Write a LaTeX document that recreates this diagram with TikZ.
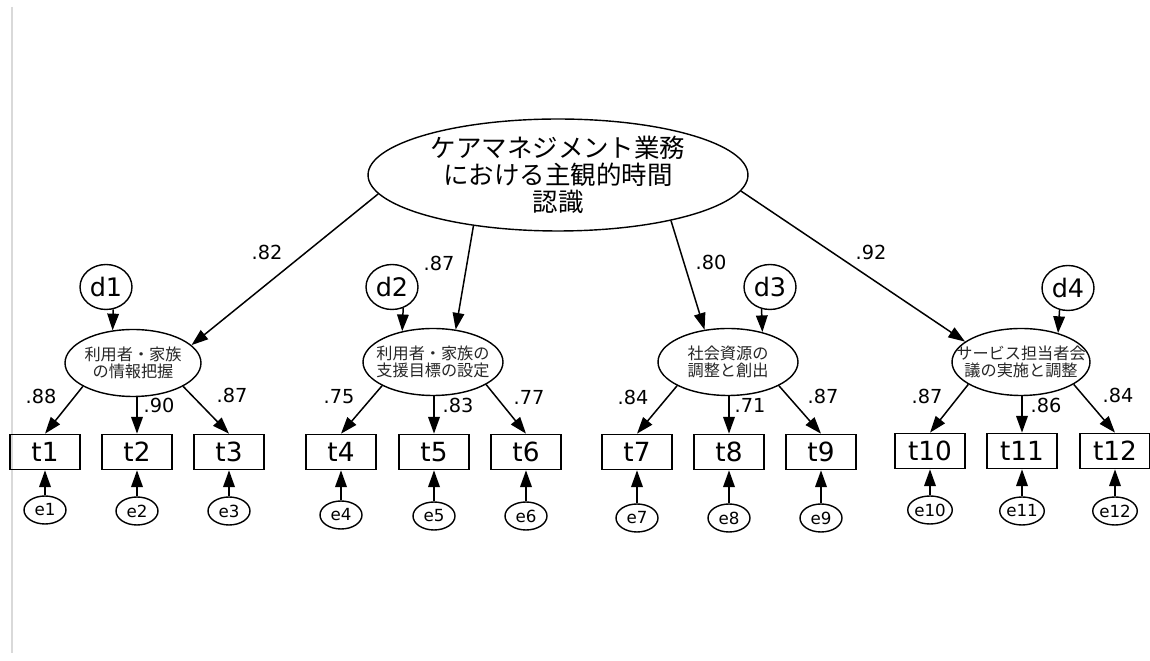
\documentclass[tikz,border=0pt]{standalone}
\usepackage{fontspec}
\setmainfont{DejaVu Sans}
\newfontfamily\jpfont{Noto Sans CJK JP}
\usetikzlibrary{arrows.meta,calc,shapes.geometric}
\begin{document}
\begin{tikzpicture}[x=0.02cm,y=-0.02cm]
\tikzset{
  latent/.style={ellipse, draw, line width=0.8pt, inner sep=0pt},
  obsbox/.style={rectangle, draw, line width=0.95pt, minimum width=1.4cm, minimum height=0.7cm, inner sep=0pt, font=\fontsize{15}{15}\selectfont},
  distc/.style={ellipse, draw, line width=0.8pt, minimum width=1.04cm, minimum height=0.9cm, inner sep=0pt, font=\fontsize{14.5}{14.5}\selectfont},
  errc/.style={ellipse, draw, line width=0.8pt, minimum width=0.84cm, minimum height=0.56cm, inner sep=0pt, font=\fontsize{9.5}{9.5}\selectfont},
  arr/.style={-{Triangle[length=9.5pt,width=6.6pt]}, line width=0.85pt},
  wt/.style={inner sep=0pt, font=\fontsize{11}{11}\selectfont},
  jpbig/.style={align=center, inner sep=0pt, font=\jpfont\fontsize{14.5}{15.4}\selectfont},
  jpsmall/.style={align=center, inner sep=0pt, text=black!85, font=\jpfont\fontsize{9.2}{9.8}\selectfont},
}
\useasboundingbox (0,0) rectangle (1150,661);
\fill[white] (0,0) rectangle (1150,661);
% faint left rule
\coordinate (g1) at (12,7);
\coordinate (g2) at (12,653);
\draw[black!15, line width=0.6pt] (g1) -- (g2);

% main latent
\node[latent, minimum width=7.6cm, minimum height=2.24cm,
  label={[jpbig]center:ケアマネジメント業務\\における主観的時間\\認識}] (M) at (558,175) {};

% first-order latents
\node[latent, minimum width=2.72cm, minimum height=1.34cm,
  label={[jpsmall]center:利用者・家族\\の情報把握}] (L1) at (133,363) {};
\node[latent, minimum width=2.8cm, minimum height=1.34cm,
  label={[jpsmall]center:利用者・家族の\\支援目標の設定}] (L2) at (433,362) {};
\node[latent, minimum width=2.8cm, minimum height=1.34cm,
  label={[jpsmall]center:社会資源の\\調整と創出}] (L3) at (728,362) {};
\node[latent, minimum width=2.76cm, minimum height=1.34cm,
  label={[jpsmall]center:サービス担当者会\\議の実施と調整}] (L4) at (1021,362) {};

% disturbances
\node[distc] (d1) at (106,287) {d1};
\node[distc] (d2) at (392,287) {d2};
\node[distc] (d3) at (770,287) {d3};
\node[distc] (d4) at (1068,288) {d4};

% observed
\node[obsbox] (t1) at (45,452) {t1};
\node[obsbox] (t2) at (137,452) {t2};
\node[obsbox] (t3) at (229,452) {t3};
\node[obsbox] (t4) at (341,452) {t4};
\node[obsbox] (t5) at (434,452) {t5};
\node[obsbox] (t6) at (526,452) {t6};
\node[obsbox] (t7) at (637,452) {t7};
\node[obsbox] (t8) at (729,452) {t8};
\node[obsbox] (t9) at (821,452) {t9};
\node[obsbox] (t10) at (930,451) {t10};
\node[obsbox] (t11) at (1022,451) {t11};
\node[obsbox] (t12) at (1115,451) {t12};

% errors
\node[errc] (e1) at (45,510) {e1};
\node[errc] (e2) at (137,511) {e2};
\node[errc] (e3) at (229,511) {e3};
\node[errc] (e4) at (341,515) {e4};
\node[errc] (e5) at (434,516) {e5};
\node[errc] (e6) at (526,516) {e6};
\node[errc] (e7) at (637,518) {e7};
\node[errc] (e8) at (729,518) {e8};
\node[errc] (e9) at (821,518) {e9};
\node[errc] (e10) at (930,510) {e10};
\node[errc] (e11) at (1022,511) {e11};
\node[errc] (e12) at (1115,511) {e12};

% second-order paths
\draw[arr] (M.186.7) -- (L1.17);
\draw[arr] (M.211) -- (L2.55);
\draw[arr] (M.338) -- (L3.126);
\draw[arr] (M.355) -- (L4.160);

% disturbance paths
\draw[arr] (d1.288) -- (L1.122);
\draw[arr] (d2.298) -- (L2.135);
\draw[arr] (d3.249.5) -- (L3.41);
\draw[arr] (d4.249.5) -- (L4.38.5);

% loadings
\draw[arr] (L1.205) -- (t1.north);
\draw[arr] (t2.north |- L1.south) -- (t2.north);
\draw[arr] (L1.335) -- (t3.north);
\draw[arr] (L2.205) -- (t4.north);
\draw[arr] (t5.north |- L2.south) -- (t5.north);
\draw[arr] (L2.337) -- (t6.north);
\draw[arr] (L3.205) -- (t7.north);
\draw[arr] (t8.north |- L3.south) -- (t8.north);
\draw[arr] (L3.335) -- (t9.north);
\draw[arr] (L4.203) -- (t10.north);
\draw[arr] (t11.north |- L4.south) -- (t11.north);
\draw[arr] (L4.337) -- (t12.north);

% error paths
\foreach \i in {1,...,12} {
  \draw[arr] (e\i.north) -- (t\i.south);
}

% weights
\node[wt] (w1) at (267,252) {.82};
\node[wt] (w2) at (439,263) {.87};
\node[wt] (w3) at (711,262) {.80};
\node[wt] (w4) at (871,252) {.92};

\node[wt] (a1) at (41,396) {.88};
\node[wt] (a2) at (159,405) {.90};
\node[wt] (a3) at (232,395) {.87};
\node[wt] (a4) at (339,397) {.75};
\node[wt] (a5) at (458,405) {.83};
\node[wt] (a6) at (529,397) {.77};
\node[wt] (a7) at (633,397) {.84};
\node[wt] (a8) at (750,405) {.71};
\node[wt] (a9) at (823,396) {.87};
\node[wt] (a10) at (927,396) {.87};
\node[wt] (a11) at (1046,405) {.86};
\node[wt] (a12) at (1118,395) {.84};
\end{tikzpicture}
\end{document}
